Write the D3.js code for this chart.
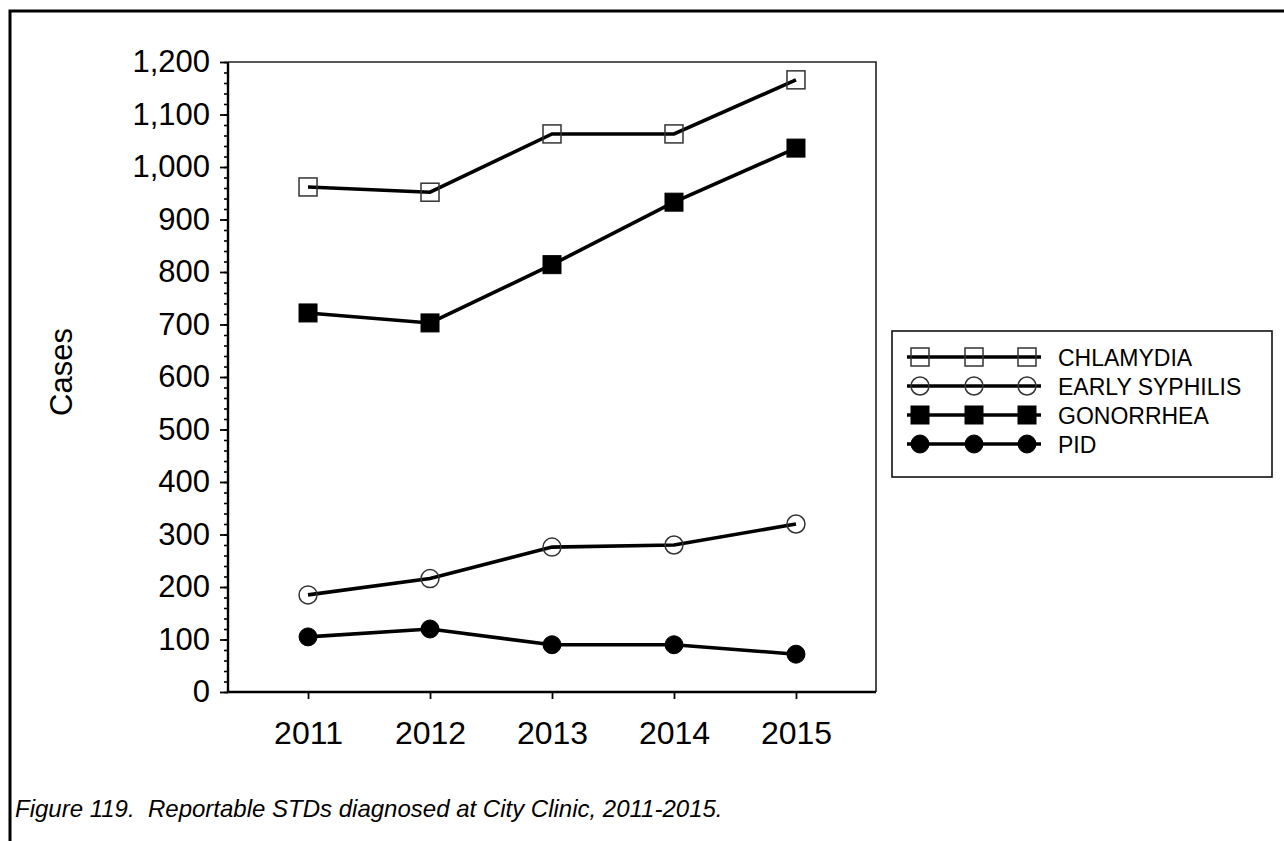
<!DOCTYPE html>
<html>
<head>
<meta charset="utf-8">
<script src="https://cdn.jsdelivr.net/npm/d3@7"></script>
<style>
  body { margin: 0; background: #fff; }
  svg { display: block; font-family: "Liberation Sans", Arial, sans-serif; }
</style>
</head>
<body>
<div id="chart"></div>
<script>
// data
const years = ["2011", "2012", "2013", "2014", "2015"];
const seriesNames = ["CHLAMYDIA", "EARLY SYPHILIS", "GONORRHEA", "PID"];
const chlamydia = [962, 952, 1063, 1063, 1166];
const earlySyphilis = [185, 216, 276, 280, 320];
const gonorrhea = [722, 703, 814, 933, 1036];
const pid = [105, 120, 90, 90, 72];
const yTicks = [0, 100, 200, 300, 400, 500, 600, 700, 800, 900, 1000, 1100, 1200];
const caption = "Figure 119.  Reportable STDs diagnosed at City Clinic, 2011-2015.";

const width = 1284, height = 841;
const plot = { left: 228, top: 62, right: 876, bottom: 692 };

// marker style per series: shape + filled or not
const series = [
  { name: seriesNames[0], values: chlamydia, shape: "square", filled: false },
  { name: seriesNames[1], values: earlySyphilis, shape: "circle", filled: false },
  { name: seriesNames[2], values: gonorrhea, shape: "square", filled: true },
  { name: seriesNames[3], values: pid, shape: "circle", filled: true }
];

const svg = d3.select("#chart").append("svg")
  .attr("width", width)
  .attr("height", height);

// outer frame, only the top and left edges sit inside the window
svg.append("rect")
  .attr("x", 10).attr("y", 11)
  .attr("width", 1400).attr("height", 1000)
  .attr("fill", "none").attr("stroke", "#000").attr("stroke-width", 3);

const x = d3.scalePoint()
  .domain(years)
  .range([plot.left, plot.right])
  .padding(0.656);

const y = d3.scaleLinear()
  .domain([0, 1200])
  .range([plot.bottom, plot.top]);

// plot box: thin top and right
svg.append("path")
  .attr("d", `M${plot.left},${plot.top}H${plot.right}V${plot.bottom}`)
  .attr("fill", "none").attr("stroke", "#222").attr("stroke-width", 1.6);

// minor ticks every 20
svg.append("g")
  .attr("transform", `translate(${plot.left},0)`)
  .call(d3.axisLeft(y).tickValues(d3.range(0, 1201, 20)).tickSize(4).tickFormat(""))
  .call(g => g.select(".domain").remove())
  .call(g => g.selectAll("line").attr("stroke-width", 1.6));

const yAxis = svg.append("g")
  .attr("transform", `translate(${plot.left},0)`)
  .call(d3.axisLeft(y).tickValues(yTicks).tickSize(8).tickPadding(10).tickFormat(d3.format(",")));
yAxis.select(".domain").attr("stroke-width", 2.4).attr("d", `M0,${plot.top}V${plot.bottom}`);
yAxis.selectAll("line").attr("stroke-width", 1.8);
yAxis.selectAll("text").attr("font-size", 31).attr("fill", "#000")
  .attr("font-family", "Liberation Sans, Arial, sans-serif");

const xAxis = svg.append("g")
  .attr("transform", `translate(0,${plot.bottom})`)
  .call(d3.axisBottom(x).tickSize(7).tickPadding(22));
xAxis.select(".domain").attr("stroke-width", 2.4).attr("d", `M${plot.left},0H${plot.right}`);
xAxis.selectAll("line").attr("stroke-width", 1.8);
xAxis.selectAll("text").attr("font-size", 32).attr("fill", "#000")
  .attr("font-family", "Liberation Sans, Arial, sans-serif");

// y title
svg.append("text")
  .attr("transform", `translate(72,${(plot.top + plot.bottom) / 2 - 5}) rotate(-90)`)
  .attr("text-anchor", "middle")
  .attr("font-size", 31)
  .text("Cases");

const markerSize = 18;
function drawMarker(g, s, cx, cy) {
  const fill = s.filled ? "#000" : "none";
  const stroke = s.filled ? "#000" : "#333";
  const sw = s.filled ? 1 : 1.5;
  if (s.shape === "square") {
    g.append("rect")
      .attr("x", cx - markerSize / 2).attr("y", cy - markerSize / 2)
      .attr("width", markerSize).attr("height", markerSize)
      .attr("fill", fill).attr("stroke", stroke).attr("stroke-width", sw);
  } else {
    g.append("circle")
      .attr("cx", cx).attr("cy", cy).attr("r", markerSize / 2)
      .attr("fill", fill).attr("stroke", stroke).attr("stroke-width", sw);
  }
}

const line = d3.line()
  .x((d, i) => x(years[i]))
  .y(d => y(d));

series.forEach(s => {
  const g = svg.append("g");
  g.append("path")
    .attr("d", line(s.values))
    .attr("fill", "none").attr("stroke", "#000").attr("stroke-width", 3.6);
  s.values.forEach((v, i) => drawMarker(g, s, x(years[i]), y(v)));
});

// legend
const legend = svg.append("g");
legend.append("rect")
  .attr("x", 892).attr("y", 331).attr("width", 380).attr("height", 146)
  .attr("fill", "#fff").attr("stroke", "#111").attr("stroke-width", 1.6);

series.forEach((s, i) => {
  const ly = 357 + i * 29;
  const row = legend.append("g");
  row.append("line")
    .attr("x1", 907).attr("x2", 1041).attr("y1", ly).attr("y2", ly)
    .attr("stroke", "#000").attr("stroke-width", 3.6);
  [920, 974, 1027].forEach(cx => drawMarker(row, s, cx, ly));
  row.append("text")
    .attr("x", 1058).attr("y", ly)
    .attr("dy", "0.4em")
    .attr("font-size", 23)
    .text(s.name);
});

// caption
svg.append("text")
  .attr("x", 15).attr("y", 817)
  .attr("font-size", 24)
  .attr("font-style", "italic")
  .style("white-space", "pre")
  .text(caption);
</script>
</body>
</html>
